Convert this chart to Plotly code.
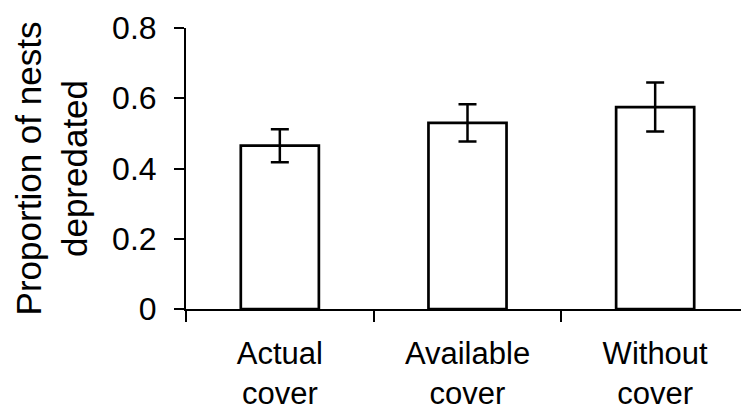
import plotly.graph_objects as go

categories = ["Actual<br>cover", "Available<br>cover", "Without<br>cover"]
proportions = [0.465, 0.53, 0.575]
errors = [0.047, 0.053, 0.07]
y_ticks = [0, 0.2, 0.4, 0.6, 0.8]
y_ticktext = ["0", "0.2", "0.4", "0.6", "0.8"]

FONT = "Liberation Sans, Arial, sans-serif"

fig = go.Figure(
    go.Bar(
        x=categories,
        y=proportions,
        marker=dict(color="white", line=dict(color="black", width=2.7)),
        error_y=dict(type="data", array=errors, visible=True,
                     color="black", thickness=2.5, width=9),
    )
)

# page body has an 8px margin, so the figure is drawn 8px in from top-left
fig.update_layout(
    width=741, height=406,
    margin=dict(l=178, r=0, t=20, b=105),
    paper_bgcolor="white", plot_bgcolor="white",
    bargap=0.584,
    showlegend=False,
    font=dict(family=FONT, color="black", size=31),
)

fig.update_yaxes(
    range=[0, 0.8],
    tickvals=y_ticks, ticktext=y_ticktext,
    showgrid=False, zeroline=False, automargin=False,
    showline=True, linecolor="black", linewidth=2,
    ticks="outside", ticklen=10, tickwidth=1.5, tickcolor="black",
    tickfont=dict(size=32, family=FONT),
    ticklabelstandoff=11,
    ticklabeloverflow="allow",
    title=dict(text="Proportion of nests<br>depredated",
               font=dict(size=35, family=FONT), standoff=14),
)

fig.update_xaxes(
    showgrid=False, zeroline=False, automargin=False,
    showline=True, linecolor="black", linewidth=1.5,
    ticks="outside", tickson="boundaries", ticklen=11, tickwidth=1.5, tickcolor="black",
    tickfont=dict(size=31, family=FONT),
    ticklabelstandoff=16,
    ticklabeloverflow="allow",
)

fig.write_html("out.html")
